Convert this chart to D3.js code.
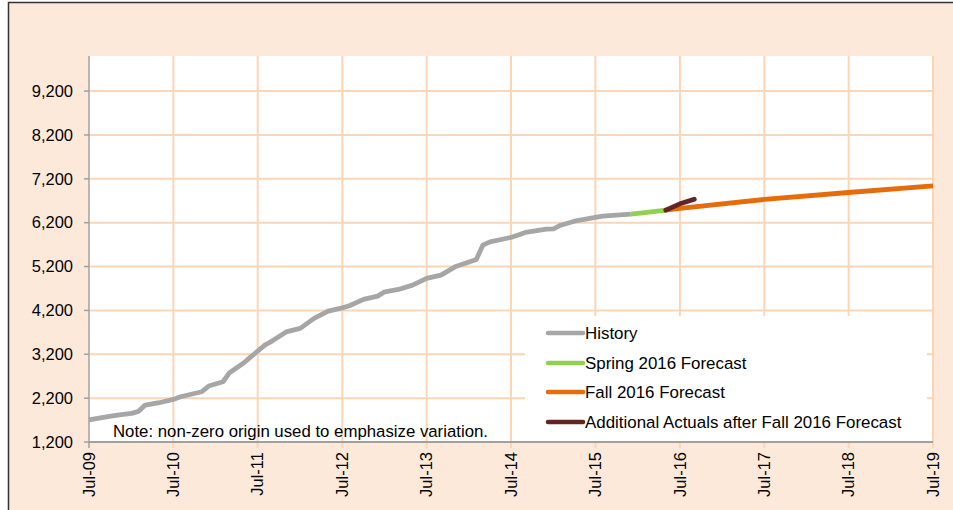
<!DOCTYPE html>
<html>
<head>
<meta charset="utf-8">
<script src="https://cdn.jsdelivr.net/npm/d3@7"></script>
<style>
  body { margin: 0; background: #fff; }
  svg { display: block; }
  text { font-family: Arial, "Liberation Sans", sans-serif; fill: #000; }
</style>
</head>
<body>
<div id="chart"></div>
<script>
// Datos (mes, valor)
const historyMonths = ['2009-07', '2009-09', '2009-11', '2010-01', '2010-02', '2010-03', '2010-05', '2010-07', '2010-08',
  '2010-11', '2010-12', '2011-02', '2011-03', '2011-05', '2011-06', '2011-08', '2011-09', '2011-11', '2012-01',
  '2012-03', '2012-05', '2012-07', '2012-08', '2012-10', '2012-12', '2013-01', '2013-03', '2013-05', '2013-07',
  '2013-09', '2013-11', '2014-02', '2014-03', '2014-04', '2014-07', '2014-09', '2014-12', '2015-01', '2015-02',
  '2015-04', '2015-08', '2015-12'];
const historyValues = [1705, 1763, 1815, 1854, 1899, 2043, 2095, 2170, 2232,
  2346, 2476, 2574, 2780, 3000, 3140, 3410, 3500, 3710, 3790,
  4018, 4184, 4259, 4305, 4451, 4526, 4624, 4678, 4776, 4929,
  5004, 5193, 5362, 5688, 5763, 5863, 5977, 6052, 6060, 6143,
  6234, 6348, 6394];

const springMonths = ['2015-12', '2016-02', '2016-05'];
const springValues = [6394, 6430, 6485];

const fallMonths = ['2016-05', '2016-07', '2017-07', '2018-07', '2019-07'];
const fallValues = [6485, 6525, 6730, 6888, 7040];

const actualMonths = ['2016-05', '2016-07', '2016-09'];
const actualValues = [6485, 6630, 6735];

const yTicks = [1200, 2200, 3200, 4200, 5200, 6200, 7200, 8200, 9200];
const xTickMonths = ['2009-07', '2010-07', '2011-07', '2012-07', '2013-07', '2014-07',
  '2015-07', '2016-07', '2017-07', '2018-07', '2019-07'];

const legendLabels = ['History', 'Spring 2016 Forecast', 'Fall 2016 Forecast', 'Additional Actuals after Fall 2016 Forecast'];
const seriesColors = ['#A6A6A6', '#92D050', '#E46C0A', '#632523'];

// Dimensiones
const W = 953, H = 510;
const plot = { left: 89, right: 933, top: 56, bottom: 442 };
const parseMes = d3.timeParse('%Y-%m');
const fmtTick = d3.timeFormat('%b-%y');

const svg = d3.select('#chart').append('svg').attr('width', W).attr('height', H);

// Fondo y marco
svg.append('rect').attr('x', 8.5).attr('y', 2.5).attr('width', W + 20).attr('height', H + 20)
  .attr('fill', '#FDE9D9').attr('stroke', '#333').attr('stroke-width', 1.5);
svg.append('rect').attr('x', plot.left).attr('y', plot.top)
  .attr('width', plot.right - plot.left).attr('height', plot.bottom - plot.top).attr('fill', '#fff');

// Escalas
const x = d3.scaleTime().domain([parseMes('2009-07'), parseMes('2019-07')]).range([plot.left, plot.right]);
const y = d3.scaleLinear().domain([1200, 10000]).range([plot.bottom, plot.top]);

const gridColor = '#FCD5B5';
const xTickDates = xTickMonths.map(parseMes);

// Rejilla
const grid = svg.append('g');
grid.selectAll('line.h').data(yTicks.slice(1)).enter().append('line')
  .attr('x1', plot.left).attr('x2', plot.right)
  .attr('y1', d => y(d)).attr('y2', d => y(d))
  .attr('stroke', gridColor).attr('stroke-width', 2);
grid.selectAll('line.v').data(xTickDates.slice(1)).enter().append('line')
  .attr('x1', d => x(d)).attr('x2', d => x(d))
  .attr('y1', plot.top).attr('y2', plot.bottom + 6)
  .attr('stroke', gridColor).attr('stroke-width', 2);

// Caja de leyenda (tapa la rejilla)
svg.append('rect').attr('x', 525).attr('y', 316).attr('width', 402).attr('height', 125).attr('fill', '#fff');

// Ejes
const axisColor = '#A0A0A0';
const yAxis = svg.append('g');
yAxis.append('line').attr('x1', plot.left).attr('x2', plot.left).attr('y1', plot.top).attr('y2', plot.bottom + 6)
  .attr('stroke', axisColor).attr('stroke-width', 1.5);
yAxis.selectAll('line.t').data(yTicks).enter().append('line')
  .attr('x1', plot.left - 5).attr('x2', plot.left)
  .attr('y1', d => y(d)).attr('y2', d => y(d))
  .attr('stroke', axisColor).attr('stroke-width', 1.5);
yAxis.selectAll('text').data(yTicks).enter().append('text')
  .attr('x', 73).attr('y', d => y(d)).attr('dy', '0.35em')
  .attr('text-anchor', 'end').attr('font-size', '16.5px')
  .text(d3.format(','));

const xAxis = svg.append('g');
xAxis.append('line').attr('x1', plot.left).attr('x2', plot.right).attr('y1', plot.bottom).attr('y2', plot.bottom)
  .attr('stroke', axisColor).attr('stroke-width', 2);
xAxis.selectAll('text').data(xTickDates).enter().append('text')
  .attr('transform', d => `translate(${x(d)},452) rotate(-90)`)
  .attr('dy', '0.35em').attr('text-anchor', 'end').attr('font-size', '16.5px')
  .text(fmtTick);

// Series
const linea = d3.line().x(d => x(d[0])).y(d => y(d[1]));
const series = [
  [historyMonths, historyValues, 'butt'],
  [springMonths, springValues, 'butt'],
  [fallMonths, fallValues, 'butt'],
  [actualMonths, actualValues, 'round']
];
series.forEach(([meses, valores, cap], i) => {
  const datos = meses.map((m, j) => [parseMes(m), valores[j]]);
  svg.append('path').datum(datos)
    .attr('d', linea)
    .attr('fill', 'none')
    .attr('stroke', seriesColors[i])
    .attr('stroke-width', 4.8)
    .attr('stroke-linejoin', 'round')
    .attr('stroke-linecap', cap);
});

// Leyenda
const legend = svg.append('g');
const filaY = [333, 363, 392, 422];
legendLabels.forEach((lbl, i) => {
  legend.append('line').attr('x1', 548).attr('x2', 583).attr('y1', filaY[i]).attr('y2', filaY[i])
    .attr('stroke', seriesColors[i]).attr('stroke-width', 4.5).attr('stroke-linecap', 'round');
  legend.append('text').attr('x', 585).attr('y', filaY[i] + 6).attr('font-size', '16.9px').text(lbl);
});

// Nota
svg.append('text').attr('x', 113).attr('y', 437).attr('font-size', '16.8px')
  .text('Note: non-zero origin used to emphasize variation.');
</script>
</body>
</html>
